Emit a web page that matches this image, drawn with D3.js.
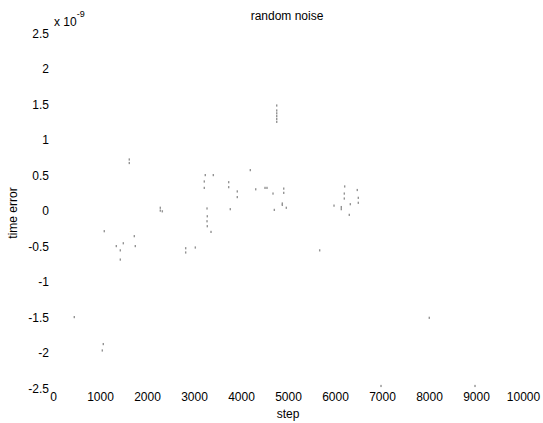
<!DOCTYPE html>
<html>
<head>
<meta charset="utf-8">
<script src="https://cdn.jsdelivr.net/npm/d3@7"></script>
<style>
  html, body { margin: 0; padding: 0; background: #fff; }
  text { font-family: "Liberation Sans", Arial, Helvetica, sans-serif; fill: #000; }
</style>
</head>
<body>
<svg id="chart" width="543" height="423"></svg>
<script>
// ---- data (time error in units of 1e-9) ----
const steps = [
  453, 1070, 1049, 1091, 1347, 1432, 1432, 1496, 1730, 1751,
  1623, 1623, 2283, 2283, 2326, 2823, 2823, 3028,
  3240, 3411, 3219, 3219, 3277, 3283, 3277, 3283, 3362,
  3738, 3738, 3921, 3921, 3772, 4198, 4313, 4553, 4511, 4681, 4709,
  4760, 4760, 4760, 4760, 4760, 4760,
  4909, 4909, 4879, 4879, 4964,
  5979, 6134, 6134, 6206, 6198, 6198, 6326, 6304, 6474, 6496, 6496,
  5674, 8006, 6979, 8979
];
const errors = [
  -1.50, -1.88, -1.97, -0.29, -0.50, -0.56, -0.69, -0.46, -0.36, -0.50,
  0.72, 0.67, 0.04, 0.00, -0.01, -0.53, -0.59, -0.52,
  0.50, 0.50, 0.41, 0.32, 0.03, -0.08, -0.15, -0.22, -0.30,
  0.40, 0.33, 0.27, 0.19, 0.02, 0.57, 0.30, 0.32, 0.32, 0.24, 0.01,
  1.48, 1.41, 1.37, 1.33, 1.29, 1.25,
  0.31, 0.25, 0.10, 0.08, 0.04,
  0.07, 0.05, 0.02, 0.34, 0.24, 0.17, 0.09, -0.06, 0.29, 0.18, 0.11,
  -0.56, -1.51, -2.47, -2.47
];
const xTicks = [0, 1000, 2000, 3000, 4000, 5000, 6000, 7000, 8000, 9000, 10000];
const yTicks = [2.5, 2, 1.5, 1, 0.5, 0, -0.5, -1, -1.5, -2, -2.5];
const titleText = "random noise";
const xLabel = "step";
const yLabel = "time error";
const exponent = "-9";

// ---- layout ----
const svg = d3.select("#chart");
const x = d3.scaleLinear().domain([0, 10000]).range([53, 523]);
const y = d3.scaleLinear().domain([-2.5, 2.5]).range([388, 33]);

const points = steps.map((s, i) => ({ s, e: errors[i] }));

// points (tiny gray dots, like the faint markers of the original)
svg.append("g")
  .selectAll("rect")
  .data(points)
  .join("rect")
  .attr("x", d => x(d.s) - 0.7)
  .attr("y", d => y(d.e) - 1)
  .attr("width", 1.4)
  .attr("height", 2.2)
  .attr("fill", "#939393");

// y tick labels (no axis lines visible in the original)
const yAxis = d3.axisLeft(y).tickValues(yTicks).tickSize(0).tickPadding(0)
  .tickFormat(d => String(d));
const gy = svg.append("g").attr("transform", "translate(49,0)").call(yAxis);
gy.select(".domain").remove();
gy.selectAll("text").attr("font-size", 12)
  .style("font-family", '"Liberation Sans", Arial, sans-serif')
  .attr("dy", "0.36em").attr("fill", "#000");

// x tick labels
const xAxis = d3.axisBottom(x).tickValues(xTicks).tickSize(0).tickPadding(0)
  .tickFormat(d => String(d));
const gx = svg.append("g").attr("transform", "translate(0,392)").call(xAxis);
gx.select(".domain").remove();
gx.selectAll("text").attr("font-size", 12)
  .style("font-family", '"Liberation Sans", Arial, sans-serif')
  .attr("dy", "0.71em").attr("y", 0).attr("fill", "#000");

// exponent label
const ex = svg.append("text").attr("x", 54).attr("y", 26).attr("font-size", 12);
ex.append("tspan").text("x 10");
ex.append("tspan").attr("dy", -9).attr("font-size", 9).text(exponent);

// title
svg.append("text").attr("x", 287).attr("y", 20).attr("text-anchor", "middle")
  .attr("font-size", 12).text(titleText);

// axis labels
svg.append("text").attr("x", 288).attr("y", 418).attr("text-anchor", "middle")
  .attr("font-size", 12).text(xLabel);
svg.append("text").attr("transform", "translate(17,213) rotate(-90)")
  .attr("text-anchor", "middle").attr("font-size", 12).text(yLabel);
</script>
</body>
</html>
